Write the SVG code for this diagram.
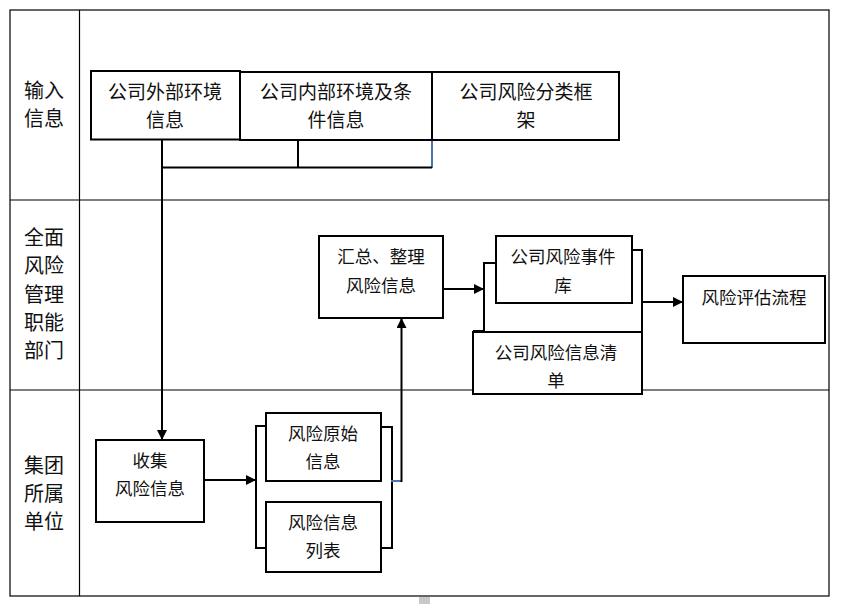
<svg xmlns="http://www.w3.org/2000/svg" width="841" height="604" viewBox="0 0 841 604">
<style>
.frame{fill:none;stroke:#000;stroke-width:1.2}
.box{fill:#fff;stroke:#000;stroke-width:2}
.ln{fill:none;stroke:#000;stroke-width:2}
.blue{fill:none;stroke:#4a72b8;stroke-width:2}
.t{font-family:"Noto Sans CJK SC","Noto Sans",sans-serif;font-size:17.5px;fill:#111;text-anchor:middle}
.tb{font-size:19px}
.lane{font-family:"Noto Sans CJK SC","Noto Sans",sans-serif;font-size:20px;fill:#111;text-anchor:middle}
</style>
<defs>
<marker id="ah" viewBox="0 0 10 10" refX="10" refY="5" markerWidth="10" markerHeight="10" markerUnits="userSpaceOnUse" orient="auto">
<path d="M0,0 L10,5 L0,10 z" fill="#000"/>
</marker>
</defs>
<rect width="841" height="604" fill="#fff"/>
<g id="lanes">
<rect class="frame" x="10" y="10" width="819" height="586"/>
<line class="frame" x1="79.5" y1="10" x2="79.5" y2="596"/>
<line class="frame" x1="10" y1="200" x2="829" y2="200"/>
<line class="frame" x1="10" y1="390" x2="829" y2="390"/>
<text class="lane" x="44" y="98">输入</text>
<text class="lane" x="44" y="126">信息</text>
<text class="lane" x="44" y="245">全面</text>
<text class="lane" x="44" y="273">风险</text>
<text class="lane" x="44" y="302">管理</text>
<text class="lane" x="44" y="330">职能</text>
<text class="lane" x="44" y="358">部门</text>
<text class="lane" x="44" y="473">集团</text>
<text class="lane" x="44" y="501">所属</text>
<text class="lane" x="44" y="529">单位</text>
</g>
<g id="connectors">
<line class="ln" x1="162" y1="140" x2="162" y2="168"/>
<line class="ln" x1="298" y1="140" x2="298" y2="168"/>
<line class="blue" x1="432" y1="140" x2="432" y2="168"/>
<line class="ln" x1="161" y1="167.5" x2="432" y2="167.5"/>
<line class="ln" x1="162" y1="167" x2="162" y2="440" marker-end="url(#ah)"/>
<line class="ln" x1="204" y1="480" x2="256" y2="480" marker-end="url(#ah)"/>
<polyline class="ln" points="266,426 256,426 256,548 266,548"/>
<polyline class="ln" points="381,427 392,427 392,548 381,548"/>
<line class="blue" x1="391" y1="481" x2="402" y2="481"/>
<line class="ln" x1="401.5" y1="482" x2="401.5" y2="318" stroke="#333" marker-end="url(#ah)"/>
<line class="ln" x1="443" y1="289" x2="484" y2="289" marker-end="url(#ah)"/>
<polyline class="ln" points="496,263 484,263 484,331 473,331"/>
<polyline class="ln" points="632,250 642,250 642,372"/>
<line class="ln" x1="642" y1="302" x2="683" y2="302" marker-end="url(#ah)"/>
</g>
<g id="n-ext">
<rect class="box" x="91" y="71" width="149" height="68.5"/>
<text class="t tb" x="165" y="99">公司外部环境</text>
<text class="t tb" x="165" y="127">信息</text>
</g>
<g id="n-int">
<rect class="box" x="240" y="72" width="192" height="68"/>
<text class="t tb" x="336" y="99">公司内部环境及条</text>
<text class="t tb" x="336" y="127">件信息</text>
</g>
<g id="n-cls">
<rect class="box" x="432" y="72" width="187" height="68"/>
<text class="t tb" x="526" y="99">公司风险分类框</text>
<text class="t tb" x="526" y="127">架</text>
</g>
<g id="n-sum">
<rect class="box" x="319" y="236" width="124" height="82"/>
<text class="t" x="381" y="263">汇总、整理</text>
<text class="t" x="381" y="292">风险信息</text>
</g>
<g id="n-evt">
<rect class="box" x="496" y="236" width="136" height="67"/>
<text class="t" x="563" y="263">公司风险事件</text>
<text class="t" x="563" y="292">库</text>
</g>
<g id="n-list">
<rect class="box" x="473" y="332" width="169" height="62"/>
<text class="t" x="556" y="359">公司风险信息清</text>
<text class="t" x="556" y="387">单</text>
</g>
<g id="n-eval">
<rect class="box" x="683" y="276" width="142" height="67"/>
<text class="t" x="754" y="304">风险评估流程</text>
</g>
<g id="n-collect">
<rect class="box" x="96" y="440" width="108" height="82"/>
<text class="t" x="150" y="467">收集</text>
<text class="t" x="150" y="495">风险信息</text>
</g>
<g id="n-raw">
<rect class="box" x="266" y="413" width="115" height="68"/>
<text class="t" x="323" y="440">风险原始</text>
<text class="t" x="323" y="468">信息</text>
</g>
<g id="n-tbl">
<rect class="box" x="266" y="502" width="115" height="70"/>
<text class="t" x="323" y="529">风险信息</text>
<text class="t" x="323" y="557">列表</text>
</g>
<rect x="419" y="597" width="11" height="7" fill="#c8c8c8"/>
</svg>
